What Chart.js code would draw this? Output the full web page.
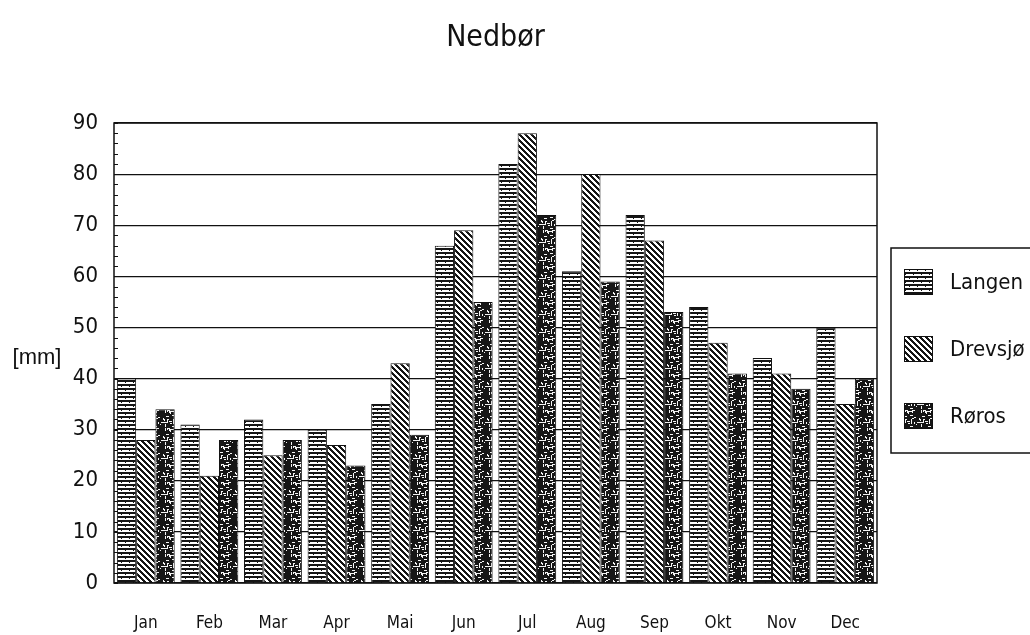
<!DOCTYPE html>
<html><head><meta charset="utf-8">
<script src="https://cdn.jsdelivr.net/npm/chart.js@4"></script>
<style>html,body{margin:0;padding:0;background:#fff;} #wrap{width:1030px;height:635px;position:relative;}</style>
</head><body><div id="wrap"><canvas id="c"></canvas></div>
<script>
const titleText = 'Nedbør';
const yAxisLabel = '[mm]';
const months = ['Jan','Feb','Mar','Apr','Mai','Jun','Jul','Aug','Sep','Okt','Nov','Dec'];
const seriesNames = ['Langen','Drevsjø','Røros'];
const langen  = [40,31,32,30,35,66,82,61,72,54,44,50];
const drevsjo = [28,21,25,27,43,69,88,80,67,47,41,35];
const roros   = [34,28,28,23,29,55,72,59,53,41,38,40];
const yMin = 0, yMax = 90, yStep = 10, yMinorStep = 2;

const NARROW = "'Liberation Sans Narrow','DejaVu Sans Condensed','Arial Narrow',sans-serif";

function tile(w,h){const c=document.createElement('canvas');c.width=w;c.height=h;return c;}
function patLines(){
  const c=tile(8,8),g=c.getContext('2d');
  g.fillStyle='#fff';g.fillRect(0,0,8,8);
  g.fillStyle='#151515';
  g.fillRect(0,0,8,2);g.fillRect(0,4,8,2);
  g.fillRect(1,2,1,1);g.fillRect(5,6,1,1);
  return g.createPattern(c,'repeat');
}
function patDiag(){
  const c=tile(6,6),g=c.getContext('2d');
  const img=g.createImageData(6,6);
  for(let y=0;y<6;y++)for(let x=0;x<6;x++){
    const k=(((x-y)%6)+6)%6; const v=k<3?20:255; const i=(y*6+x)*4;
    img.data[i]=img.data[i+1]=img.data[i+2]=v;img.data[i+3]=255;}
  g.putImageData(img,0,0);
  return g.createPattern(c,'repeat');
}
function patStipple(){
  const n=18,c=tile(n,n),g=c.getContext('2d');
  const img=g.createImageData(n,n);
  let s=12345; const r=()=>{s=(s*1103515245+12345)&0x7fffffff;return s/0x7fffffff;};
  for(let i=0;i<n*n;i++){img.data[i*4]=img.data[i*4+1]=img.data[i*4+2]=22;img.data[i*4+3]=255;}
  for(let k=0;k<30;k++){
    const x=Math.floor(r()*n),y=Math.floor(r()*n),len=1+Math.floor(r()*3),dir=r()<0.5;
    for(let t=0;t<len;t++){const xx=(x+(dir?t:0))%n,yy=(y+(dir?0:t))%n;const i=(yy*n+xx)*4;
      img.data[i]=img.data[i+1]=img.data[i+2]=245;}
  }
  g.putImageData(img,0,0);
  return g.createPattern(c,'repeat');
}
const patterns=[patLines(),patDiag(),patStipple()];
const seriesValues=[langen,drevsjo,roros];

const decor={
  id:'decor',
  afterDatasetsDraw(chart){
    const {ctx,chartArea:a,scales:{y}}=chart;
    ctx.save();
    ctx.strokeStyle='#111';ctx.lineWidth=1.5;
    ctx.strokeRect(a.left,a.top,a.right-a.left,a.bottom-a.top);
    ctx.lineWidth=1;
    for(let v=yMin;v<=yMax;v+=yMinorStep){const py=Math.round(y.getPixelForValue(v))+0.5;
      ctx.beginPath();ctx.moveTo(a.left,py);ctx.lineTo(a.left+4,py);ctx.stroke();}
    // y axis label
    ctx.fillStyle='#111';ctx.font="22px 'Liberation Sans',Arial,sans-serif";
    ctx.textAlign='center';ctx.textBaseline='middle';
    ctx.fillText(yAxisLabel,a.left-77,(a.top+a.bottom)/2+5);
    // legend
    const bx=a.right+14,by=a.top+125,bw=200,bh=205;
    ctx.lineWidth=1.5;ctx.strokeRect(bx,by,bw,bh);
    ctx.font="22px "+NARROW;ctx.textAlign='left';
    chart.data.datasets.forEach((ds,i)=>{
      const cy=by+34+i*67;
      ctx.fillStyle=ds.backgroundColor;ctx.fillRect(bx+13,cy-13,29,26);
      ctx.lineWidth=1;ctx.strokeRect(bx+13.5,cy-12.5,28,25);
      ctx.fillStyle='#111';ctx.fillText(ds.label,bx+59,cy+1);
    });
    ctx.restore();
  }
};

new Chart(document.getElementById('c'),{
  type:'bar',
  data:{labels:months,datasets:seriesNames.map((n,i)=>({label:n,data:seriesValues[i],
    backgroundColor:patterns[i],borderColor:'#111',borderWidth:1,
    categoryPercentage:0.91,barPercentage:1.0}))},
  options:{
    responsive:true,maintainAspectRatio:false,animation:false,
    layout:{padding:{left:0,right:153,top:0,bottom:0}},
    plugins:{
      legend:{display:false},tooltip:{enabled:false},
      title:{display:true,text:titleText,fullSize:false,color:'#111',
        font:{family:NARROW,size:30,weight:'normal',lineHeight:1.2},padding:{top:20,bottom:67}}
    },
    scales:{
      x:{grid:{display:false},border:{display:false},
        ticks:{color:'#111',font:{family:NARROW,size:17,lineHeight:1.2},padding:22},
        afterFit(s){s.height=52;}},
      y:{min:yMin,max:yMax,border:{display:false},
        grid:{color:'#111',lineWidth:1.2,drawTicks:false},
        ticks:{stepSize:yStep,color:'#111',font:{family:NARROW,size:22},padding:16},
        afterFit(s){s.width=114;}}
    }
  },
  plugins:[decor]
});
</script></body></html>
